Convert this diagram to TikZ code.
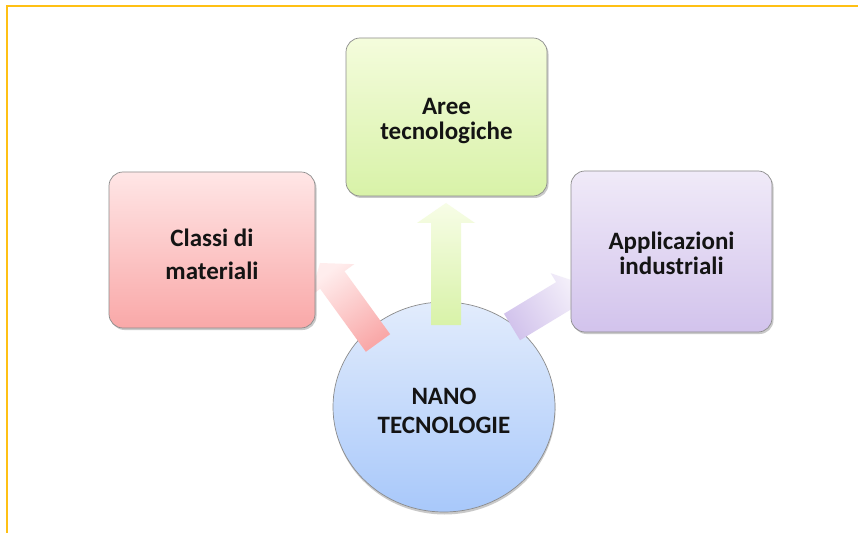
\documentclass[tikz,border=0pt]{standalone}
\usepackage{fontspec}
\setmainfont{Carlito}
\usetikzlibrary{calc,shadows,shapes.geometric}
\definecolor{frameor}{RGB}{255,192,20}
\definecolor{redtop}{RGB}{255,230,230}
\definecolor{redbot}{RGB}{249,168,168}
\definecolor{grntop}{RGB}{244,252,220}
\definecolor{grnbot}{RGB}{216,242,168}
\definecolor{purtop}{RGB}{240,234,248}
\definecolor{purbot}{RGB}{210,195,236}
\definecolor{blutop}{RGB}{226,236,252}
\definecolor{blubot}{RGB}{168,200,250}
\definecolor{txt}{RGB}{20,20,20}
\definecolor{edge}{RGB}{140,140,140}
\newcommand\blkarrow[6]{%
  \coordinate (hb) at ($(#2)!#5!(#1)$);
  \shade[#6] ($(#1)!#3!90:(#2)$) -- ($(hb)!#3!90:(#2)$) -- ($(hb)!#4!90:(#2)$) -- (#2)
    -- ($(hb)!#4!-90:(#2)$) -- ($(hb)!#3!-90:(#2)$) -- ($(#1)!#3!-90:(#2)$) -- cycle;}
\tikzset{
  box/.style={rectangle, rounded corners=14bp, draw=edge, line width=0.7bp,
    inner sep=0pt,
    drop shadow={shadow xshift=1.5bp, shadow yshift=-2bp, opacity=0.35, fill=black!60}},
  lbl/.style={align=center, text=txt, inner sep=0pt, font=\bfseries\fontsize{25bp}{25bp}\selectfont},
}
\begin{document}
\begin{tikzpicture}[x=1bp,y=-1bp]
\useasboundingbox (0,0) rectangle (858,533);
\fill[white] (0,0) rectangle (858,533);
\draw[frameor, line width=2bp] (6.5,533) -- (6.5,6) -- (858,6);

% centre
\node[ellipse, draw=edge, line width=0.7bp, minimum width=222bp, minimum height=210bp,
  inner sep=0pt, top color=blutop, bottom color=blubot,
  drop shadow={shadow xshift=0.5bp, shadow yshift=-2.5bp, opacity=0.35, fill=black!60}]
  (nano) at (444,407) {};
\node[lbl, font=\bfseries\fontsize{25bp}{29bp}\selectfont] (nanot) at ([yshift=-4bp]nano.center) {NANO\\TECNOLOGIE};

% arrows
\coordinate (gbase) at (446,325);
\coordinate (gtip) at (446,203);
\coordinate (rbase) at (378,343);
\coordinate (rtip) at (320,263);
\coordinate (pbase) at (512,327);
\coordinate (ptip) at (583,284);
\blkarrow{gbase}{gtip}{15bp}{29bp}{20bp}{top color=grntop!70!white, bottom color=grnbot}
\blkarrow{rbase}{rtip}{15bp}{27bp}{21bp}{top color=redtop!70!white, bottom color=redbot, shading angle=36}
\blkarrow{pbase}{ptip}{15.5bp}{26bp}{22bp}{top color=purtop!70!white, bottom color=purbot, shading angle=-59}

% boxes
\node[box, minimum width=206bp, minimum height=156bp, top color=redtop, bottom color=redbot]
  (classi) at (212,250) {};
\node[lbl, font=\bfseries\fontsize{25bp}{33bp}\selectfont] (classit) at ([yshift=-4bp]classi.center) {Classi di\\materiali};
\node[box, minimum width=201bp, minimum height=158bp, top color=grntop, bottom color=grnbot]
  (aree) at (446.5,117) {};
\node[lbl] (areet) at ([yshift=-4bp]aree.center) {Aree\\tecnologiche};
\node[box, minimum width=201bp, minimum height=161bp, top color=purtop, bottom color=purbot]
  (appl) at (671.5,251.5) {};
\node[lbl] (applt) at ([yshift=-2bp]appl.center) {Applicazioni\\industriali};
\end{tikzpicture}
\end{document}
